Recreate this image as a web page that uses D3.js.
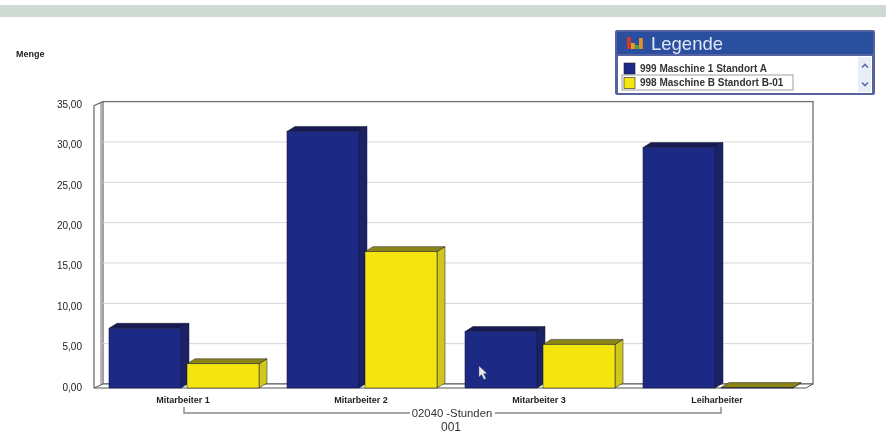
<!DOCTYPE html>
<html>
<head>
<meta charset="utf-8">
<script src="https://cdn.jsdelivr.net/npm/d3@7"></script>
<style>
  html, body { margin: 0; padding: 0; background: #fff; overflow: hidden; }
  text { font-family: "Liberation Sans", Arial, sans-serif; }
</style>
</head>
<body>
<div id="chart"></div>
<script>
const categories = ['Mitarbeiter 1', 'Mitarbeiter 2', 'Mitarbeiter 3', 'Leiharbeiter'];
const seriesNames = ['999 Maschine 1 Standort A', '998 Maschine B Standort B-01'];
const seriesA = [7.4, 31.8, 7.0, 29.8];
const seriesB = [3.0, 16.9, 5.4, 0.05];
const yTicks = [0, 5, 10, 15, 20, 25, 30, 35];

const width = 886, height = 444;
const depthX = 8, depthY = 5;

const colors = [
  { front: '#1e2a85', side: '#1a2366', top: '#141b52' },
  { front: '#f3e50f', side: '#cfc71c', top: '#8b8512' }
];

const svg = d3.select('#chart').append('svg')
  .attr('width', width)
  .attr('height', height)
  .style('display', 'block');

// the reference is a soft, compressed screenshot
const defs = svg.append('defs');
defs.append('filter').attr('id', 'soft')
  .append('feGaussianBlur').attr('stdDeviation', 0.6);

const root = svg.append('g').attr('filter', 'url(#soft)');

root.append('rect')
  .attr('x', 0).attr('y', 5).attr('width', width).attr('height', 12)
  .attr('fill', '#cfdbd2');

const y = d3.scaleLinear().domain([0, 35]).range([388, 105.6]);
const x0 = d3.scaleBand().domain(categories).range([95, 813])
  .paddingInner(0.1234).paddingOuter(0.0785);
const x1 = d3.scaleBand().domain([0, 1]).range([0, x0.bandwidth()]);

// walls and floor
const wallL = 94, wallB = 103, wallR = 813, floorR = 806;
const wallLine = '#6f6f6f';

root.append('rect')
  .attr('x', wallB).attr('y', y(35) - 4)
  .attr('width', wallR - wallB).attr('height', y(0) - y(35))
  .attr('fill', '#fff').attr('stroke', wallLine).attr('stroke-width', 1.3);

root.append('path')
  .attr('d', `M${wallL},${y(0)}V${y(35)}L${wallB},${y(35) - 4}`)
  .attr('fill', 'none').attr('stroke', wallLine).attr('stroke-width', 1.3);

root.append('line')
  .attr('x1', wallB - 2).attr('x2', wallB - 2)
  .attr('y1', y(35) - 3).attr('y2', y(0) - 3)
  .attr('stroke', wallLine).attr('stroke-width', 1);

root.append('path')
  .attr('d', `M${wallL},${y(0)}L${wallB},${y(0) - 4}H${wallR}L${floorR},${y(0)}Z`)
  .attr('fill', '#fff').attr('stroke', '#555').attr('stroke-width', 1);

root.append('g').selectAll('line')
  .data(yTicks.filter(d => d > 0 && d < 35))
  .join('line')
  .attr('x1', wallB).attr('x2', wallR)
  .attr('y1', d => y(d) - 4).attr('y2', d => y(d) - 4)
  .attr('stroke', '#d6d6d6').attr('stroke-width', 1);

// bars
[seriesA, seriesB].forEach((values, s) => {
  const barW = x1.bandwidth() - 6;
  const g = root.append('g').selectAll('g')
    .data(values)
    .join('g')
    .attr('transform', (d, i) => `translate(${x0(categories[i]) + x1(s)},0)`);

  g.append('path')
    .attr('d', d => `M${barW},${y(d)}l${depthX},${-depthY}V${y(0) - depthY}l${-depthX},${depthY}Z`)
    .attr('fill', colors[s].side).attr('stroke', '#1a1a30').attr('stroke-width', 0.5);
  g.append('path')
    .attr('d', d => `M0,${y(d)}l${depthX},${-depthY}h${barW}l${-depthX},${depthY}Z`)
    .attr('fill', colors[s].top).attr('stroke', '#1a1a30').attr('stroke-width', 0.5);
  g.append('rect')
    .attr('x', 0).attr('y', d => y(d))
    .attr('width', barW).attr('height', d => y(0) - y(d))
    .attr('fill', colors[s].front).attr('stroke', '#15153a').attr('stroke-width', 0.5);
});

// axes
const yAxis = root.append('g')
  .attr('transform', `translate(${wallL},0)`)
  .call(d3.axisLeft(y).tickValues(yTicks).tickSize(0).tickPadding(12)
    .tickFormat(d => d3.format('.2f')(d).replace('.', ',')));
yAxis.select('.domain').remove();
yAxis.selectAll('text').attr('font-size', 10).attr('fill', '#222')
  .attr('font-family', '"Liberation Sans", Arial, sans-serif').attr('dy', '0.2em');

const xAxis = root.append('g')
  .attr('transform', `translate(-4,${y(0)})`)
  .call(d3.axisBottom(x0).tickSize(0).tickPadding(9));
xAxis.select('.domain').remove();
xAxis.selectAll('text').attr('font-size', 9).attr('font-weight', 'bold').attr('fill', '#222')
  .attr('font-family', '"Liberation Sans", Arial, sans-serif');

root.append('text')
  .attr('x', 16).attr('y', 57)
  .attr('font-size', 9).attr('font-weight', 'bold').attr('fill', '#222')
  .text('Menge');

// bracket under the categories
const brL = 184, brR = 721, brY = 413;
root.append('path')
  .attr('d', `M${brL},${brY - 6}V${brY}H${brR}V${brY - 6}`)
  .attr('fill', 'none').attr('stroke', '#888').attr('stroke-width', 1.4);
root.append('rect')
  .attr('x', 410).attr('y', brY - 6).attr('width', 85).attr('height', 12).attr('fill', '#fff');
root.append('text')
  .attr('x', 452).attr('y', brY + 4)
  .attr('text-anchor', 'middle').attr('font-size', 11.3).attr('fill', '#333')
  .text('02040 -Stunden');
root.append('text')
  .attr('x', 451).attr('y', 431)
  .attr('text-anchor', 'middle').attr('font-size', 12).attr('fill', '#333')
  .text('001');

// mouse pointer left in the screenshot
root.append('path')
  .attr('d', 'M479,366l0,11l2.6,-2.4l2.4,5l2,-1l-2.4,-4.8l3.4,-0.4Z')
  .attr('fill', '#e8e8f0').attr('stroke', '#555').attr('stroke-width', 0.4);

// legend box
const legend = root.append('g');
legend.append('rect')
  .attr('x', 615).attr('y', 30).attr('width', 260).attr('height', 65).attr('rx', 2)
  .attr('fill', '#56649f');
legend.append('rect')
  .attr('x', 617).attr('y', 32).attr('width', 256).attr('height', 22)
  .attr('fill', '#2c4f9e');
legend.append('rect')
  .attr('x', 618).attr('y', 56).attr('width', 254).attr('height', 37)
  .attr('fill', '#fff');

const iconBars = [[627, 12, '#d8392a'], [631, 6, '#e8a020'], [635, 4, '#4fa04a'], [639, 11, '#e0902a']];
legend.selectAll('rect.icon')
  .data(iconBars)
  .join('rect')
  .attr('class', 'icon')
  .attr('x', d => d[0]).attr('y', d => 49 - d[1])
  .attr('width', 3.8).attr('height', d => d[1])
  .attr('fill', d => d[2]);

legend.append('text')
  .attr('x', 651).attr('y', 50)
  .attr('font-size', 18.5).attr('fill', '#dfe6f5')
  .text('Legende');

legend.append('rect')
  .attr('x', 622).attr('y', 75).attr('width', 171).attr('height', 15)
  .attr('fill', 'none').attr('stroke', '#777').attr('stroke-width', 0.7);

const rows = legend.selectAll('g.row')
  .data(seriesNames)
  .join('g')
  .attr('class', 'row')
  .attr('transform', (d, i) => `translate(0,${63 + i * 14.5})`);
rows.append('rect')
  .attr('x', 624).attr('width', 11).attr('height', 11)
  .attr('fill', (d, i) => colors[i].front).attr('stroke', '#222').attr('stroke-width', 0.6);
rows.append('text')
  .attr('x', 640).attr('y', 8.5)
  .attr('font-size', 10).attr('font-weight', 'bold').attr('fill', '#333')
  .text(d => d);

// scroll buttons
legend.append('rect').attr('x', 858).attr('y', 57).attr('width', 13).attr('height', 35).attr('fill', '#e8edf7');
legend.selectAll('path.arrow')
  .data([[865, 66, -1], [865, 84, 1]])
  .join('path')
  .attr('class', 'arrow')
  .attr('d', d => `M${d[0] - 3},${d[1] - d[2] * 1.5}L${d[0]},${d[1] + d[2] * 1.5}L${d[0] + 3},${d[1] - d[2] * 1.5}`)
  .attr('fill', 'none').attr('stroke', '#5c6aa8').attr('stroke-width', 1.6);
</script>
</body>
</html>
